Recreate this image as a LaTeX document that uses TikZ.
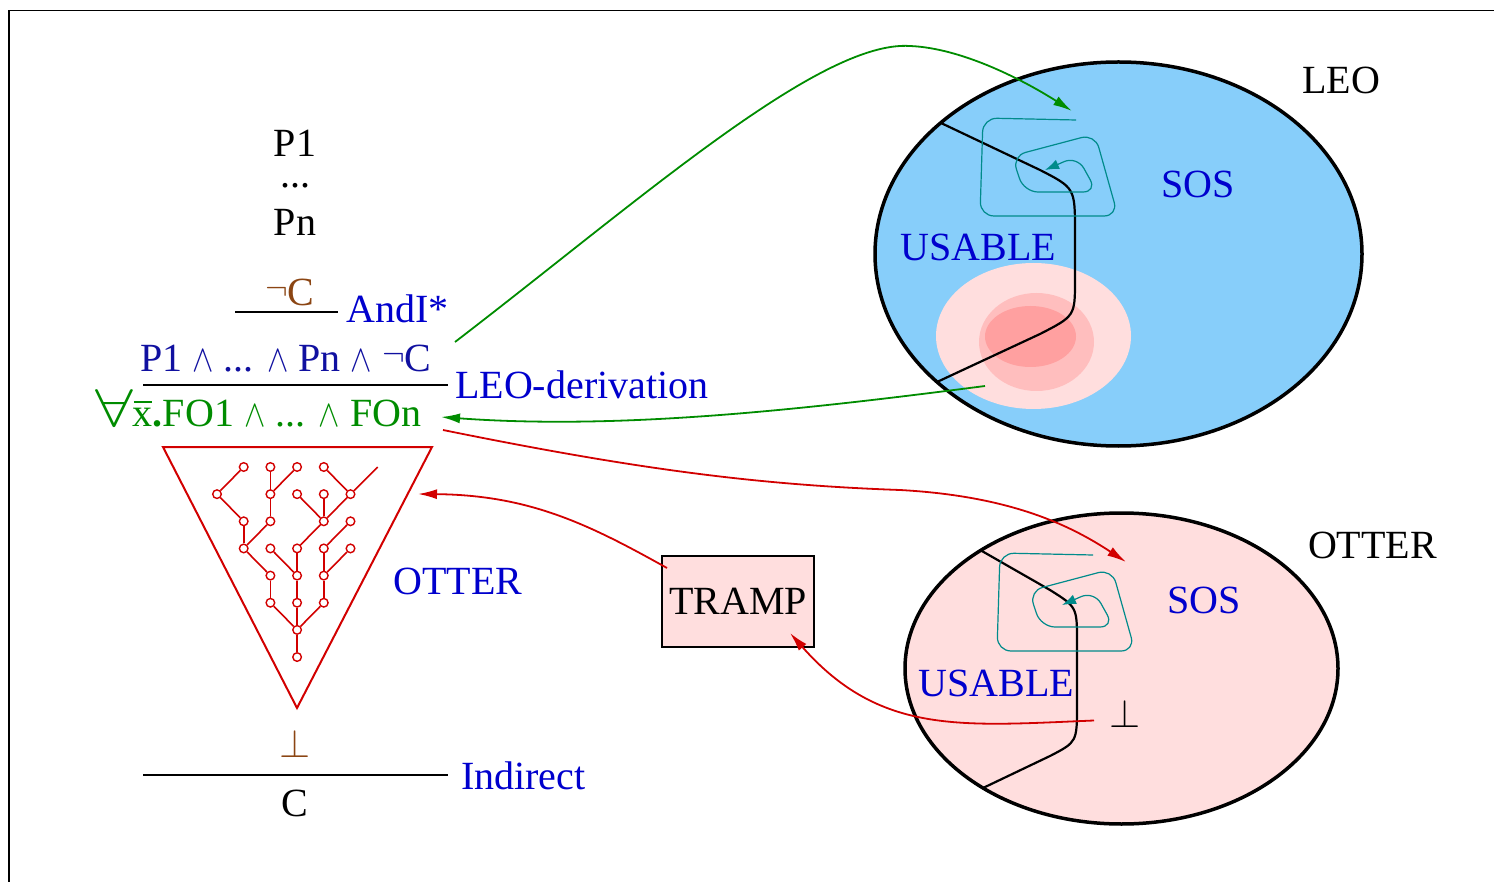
\RequirePackage{fix-cm}
\documentclass[tikz,border=0pt]{standalone}
\usepackage{fontspec}
\setmainfont{Liberation Serif}
\usepackage{graphicx}
\usetikzlibrary{arrows.meta}
\definecolor{tblue}{RGB}{0,0,205}
\definecolor{tnavy}{RGB}{16,16,160}
\definecolor{tbrown}{RGB}{139,69,19}
\definecolor{tgreen}{RGB}{0,140,0}
\definecolor{tred}{RGB}{210,0,0}
\definecolor{skyb}{RGB}{135,206,250}
\definecolor{pinka}{RGB}{255,222,222}
\definecolor{pinkb}{RGB}{255,190,190}
\definecolor{pinkc}{RGB}{255,160,160}
\definecolor{tealc}{RGB}{0,139,139}
\newcommand{\wdg}{\scalebox{0.8}[0.95]{$\wedge$}}
\newcommand{\nega}{{\fontsize{34}{34}\selectfont\raisebox{6pt}{$\neg$}}}
\newcommand{\fa}{\scalebox{1.7}[1.33]{$\forall$}}
\newcommand{\xbar}{\makebox[0pt][l]{\hspace{1pt}\rule[24pt]{18pt}{1.6pt}}x}
\begin{document}
\begin{tikzpicture}[x=1pt,y=-1pt,
  txt/.style={font=\fontsize{40}{48}\selectfont, inner sep=0pt, anchor=base},
  fracbar/.style={line width=2pt},
  arr/.style={line width=1.8pt, -{Latex[length=19pt,width=10pt]}},
  spir/.style={tealc, line width=1.2pt, rounded corners=14pt, -{Latex[length=14pt,width=10pt]}},
  divider/.style={line width=2.2pt},
  tnode/.style={circle, draw=tred, line width=1.4pt, minimum size=8.6pt, inner sep=0pt},
  tedge/.style={tred, line width=1.6pt}]
\useasboundingbox (0,0) rectangle (1494,882);
% frame
\draw[line width=1.3pt] (9,882) -- (9,10.5) -- (1494,10.5);

% ---------- LEO ellipse ----------
\fill[skyb] (1118.5,254) ellipse [x radius=243.5pt, y radius=192pt];
\fill[pinka] (1033.5,336) ellipse [x radius=97.5pt, y radius=73pt];
\fill[pinkb] (1036.5,342) ellipse [x radius=57.5pt, y radius=49pt];
\fill[pinkc] (1030.5,336.5) ellipse [x radius=45.5pt, y radius=30.5pt];
\draw[line width=3.5pt] (1118.5,254) ellipse [x radius=243.5pt, y radius=192pt];
\draw[divider] (941,123) -- (1040,170) .. controls (1075,188) .. (1075,232) -- (1075,280) .. controls (1075,316) .. (1040,334) -- (937,382);
\draw[spir] (1076,120) -- (983,118) -- (980,216) -- (1118,216) -- (1095,134) -- (1012,156) -- (1024,192) -- (1097,192) -- (1077,156) -- (1045,170);

% ---------- OTTER ellipse ----------
\fill[pinka] (1121.5,668.5) ellipse [x radius=216.5pt, y radius=155.5pt];
\draw[line width=3.5pt] (1121.5,668.5) ellipse [x radius=216.5pt, y radius=155.5pt];
\draw[divider] (981,550.5) -- (1050,590) .. controls (1077,607) .. (1077,642) -- (1077,705) .. controls (1077,742) .. (1050,756) -- (983,788);
\begin{scope}[shift={(17,435)}]
\draw[spir] (1076,120) -- (983,118) -- (980,216) -- (1118,216) -- (1095,134) -- (1012,156) -- (1024,192) -- (1097,192) -- (1077,156) -- (1045,170);
\end{scope}

% ---------- right texts ----------
\node[txt] (leo) at (1341,94) {LEO};
\node[txt,text=tblue] (sos1) at (1198,198) {SOS};
\node[txt,text=tblue] (us1) at (978.5,261) {USABLE};
\node[txt] (otter) at (1372.5,558) {OTTER};
\node[txt,text=tblue] (sos2) at (1204,613) {SOS};
\node[txt,text=tblue] (us2) at (996.5,696) {USABLE};
\node[txt] (bot2) at (1124.7,727) {$\bot$};

% ---------- left derivation ----------
\node[txt] (p1) at (295,157) {P1};
\node[txt] (dots) at (295,188) {...};
\node[txt] (pn) at (295,236) {Pn};
\node[txt,text=tbrown] (negc) at (290,306) {\nega C};
\coordinate (b1l) at (235,312);
\coordinate (b1r) at (338,312);
\draw[fracbar] (b1l) -- (b1r);
\node[txt,text=tblue,anchor=base west] (andi) at (346,323) {AndI*};
\node[txt,text=tnavy] (conj) at (286,372) {P1 \wdg{} ... \wdg{} Pn \wdg{} \nega C};
\coordinate (b2l) at (143,385);
\coordinate (b2r) at (448,385);
\draw[fracbar] (b2l) -- (b2r);
\node[txt,text=tblue,anchor=base west] (leoder) at (455,399) {LEO-derivation};
\node[txt,text=tgreen,anchor=base west] (fo) at (95,427) {\fa\xbar\textbf{.}FO1 \wdg{} ... \wdg{} FOn};

% triangle and tree
\draw[tred, line width=2pt] (163,447) -- (432,447) -- (297,708) -- cycle;
\foreach \c/\r in {2/1,3/1,4/1,5/1, 1/2,3/2,4/2,5/2,6/2, 2/3,3/3,5/3,6/3, 2/4,3/4,4/4,5/4,6/4, 3/5,4/5,5/5, 3/6,4/6,5/6, 4/7, 4/8}
  \node[tnode] (t\c\r) at ({217+(\c-1)*26.7},{467+(\r-1)*27.15}) {};
\coordinate (tfree) at (377.7,467);
\foreach \a/\b in {21/12, 12/23, 23/24, 31/32, 41/32, 32/33, 33/24, 24/35, 35/36, 36/47,
                   51/62, 62/53, 53/44, 42/53, 52/53, 44/45, 45/46, 46/47, 47/48,
                   34/45, 63/54, 54/55, 64/55, 55/56, 56/47}
  \draw[tedge] (t\a) -- (t\b);
\draw[tedge] (tfree) -- (t62);

\node[txt,text=tblue] (ottl) at (458,594) {OTTER};
\node[txt,text=tbrown] (bot1) at (295.5,757) {$\bot$};
\coordinate (b3l) at (143,775);
\coordinate (b3r) at (448,775);
\draw[fracbar] (b3l) -- (b3r);
\node[txt,text=tblue,anchor=base west] (indir) at (461,789) {Indirect};
\node[txt] (cc) at (295,816) {C};

% TRAMP
\node[draw, line width=2pt, fill=pinka, minimum width=152pt, minimum height=91pt,
      inner sep=0pt, font=\fontsize{40}{48}\selectfont] (tramp) at (738,601.5) {TRAMP};

% ---------- arrows ----------
\coordinate (g1s) at (455,342);
\coordinate (g1e) at (1072,111);
\draw[arr,tgreen] (g1s) .. controls (640,200) and (820,40) .. (910,46) .. controls (960,48) and (1020,78) .. (g1e);
\coordinate (g2s) at (985,386);
\coordinate (g2e) at (441,417);
\draw[arr,tgreen] (g2s) .. controls (800,410) and (620,430) .. (g2e);
\coordinate (r1s) at (443,430);
\coordinate (r1e) at (1126,562);
\draw[arr,tred] (r1s) .. controls (640,470) and (760,485) .. (900,490) .. controls (1010,496) and (1070,525) .. (r1e);
\coordinate (r2s) at (667,568);
\coordinate (r2e) at (418,494);
\draw[arr,tred] (r2s) .. controls (590,525) and (530,495) .. (r2e);
\coordinate (r3s) at (1094,720.5);
\coordinate (r3e) at (790,633);
\draw[arr,tred] (r3s) .. controls (960,726) and (880,735) .. (r3e);
\end{tikzpicture}
\end{document}
